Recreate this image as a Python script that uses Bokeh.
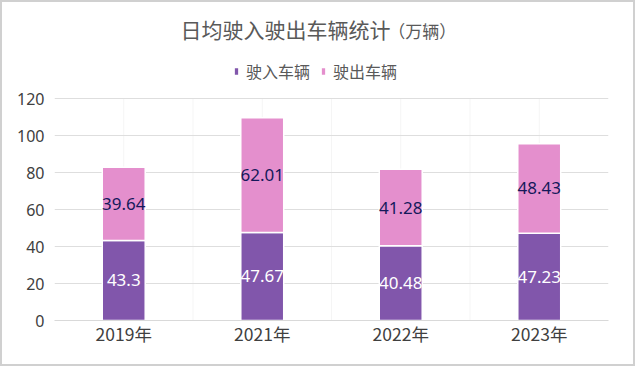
from bokeh.plotting import figure
from bokeh.models import (ColumnDataSource, FixedTicker, Label, LabelSet, Legend,
                          LegendItem, FactorRange, Range1d)
from bokeh.core.properties import value
from bokeh.embed import file_html
from bokeh.resources import INLINE

# ---- data ----
years = ["2019年", "2021年", "2022年", "2023年"]
inbound = [43.3, 47.67, 40.48, 47.23]
outbound = [39.64, 62.01, 41.28, 48.43]
series_names = ["驶入车辆", "驶出车辆"]
y_ticks = [0, 20, 40, 60, 80, 100, 120]
title_main = "日均驶入驶出车辆统计"
title_unit = "（万辆）"

PURPLE = "#8156ab"
PINK = "#e48fcd"
CJK = "Noto Sans CJK SC"

src = ColumnDataSource(dict(
    x=years,
    inb=inbound,
    outb=outbound,
    inb_mid=[v / 2 for v in inbound],
    out_mid=[a + b / 2 for a, b in zip(inbound, outbound)],
    inb_txt=[str(v) for v in inbound],
    out_txt=[str(v) for v in outbound],
))

Y_TOP = max(y_ticks)
PX_PER_UNIT = 219 / Y_TOP
FRAME_TOP_EXTRA = 90 / PX_PER_UNIT  # room above 120 for title + legend

p = figure(x_range=FactorRange(*years, range_padding=0, factor_padding=0),
           y_range=Range1d(0, Y_TOP + FRAME_TOP_EXTRA),
           width=635, height=366, output_backend="svg", toolbar_location=None,
           min_border_left=52, min_border_right=29, min_border_top=5, min_border_bottom=48,
           styles={"border": "2px solid #d0d0d0"})
p.outline_line_color = None
p.background_fill_color = "white"
p.border_fill_color = "white"

# faint vertical grid (only within the value area)
n = len(years)
vx = [i * 0.5 for i in range(1, 2 * n)]
p.segment(x0=vx, x1=vx, y0=[0] * len(vx), y1=[Y_TOP] * len(vx),
          line_color="#f5f5f5", line_width=1, level="underlay")

r = p.vbar_stack(["inb", "outb"], x="x", width=0.31, source=src,
                 color=[PURPLE, PINK], line_color="white", line_width=1.5)

p.xgrid.grid_line_color = None
p.ygrid.ticker = FixedTicker(ticks=y_ticks)
p.ygrid.grid_line_color = "#dedede"
p.yaxis.ticker = FixedTicker(ticks=y_ticks)
p.yaxis.axis_line_color = None
p.yaxis.major_tick_line_color = None
p.yaxis.minor_tick_line_color = None
p.yaxis.major_tick_out = 0
p.yaxis.major_tick_in = 0
p.yaxis.major_label_text_font = "Noto Sans"
p.yaxis.major_label_text_font_size = "16px"
p.yaxis.major_label_text_color = "#404040"
p.yaxis.major_label_standoff = 10

p.xaxis.axis_line_color = "#d9d9d9"
p.xaxis.major_tick_line_color = None
p.xaxis.minor_tick_line_color = None
p.xaxis.major_tick_out = 0
p.xaxis.major_tick_in = 0
p.xaxis.major_label_text_font = CJK
p.xaxis.major_label_text_font_size = "17.5px"
p.xaxis.major_label_text_color = "#404040"
p.xaxis.major_label_standoff = 0

# value labels
p.add_layout(LabelSet(x="x", y="inb_mid", text="inb_txt", source=src,
                      text_align="center", text_baseline="middle",
                      text_color="white", text_font=value("Noto Sans"),
                      text_font_size="17px"))
p.add_layout(LabelSet(x="x", y="out_mid", text="out_txt", source=src,
                      text_align="center", text_baseline="middle",
                      text_color="#14195a", text_font=value("Noto Sans"),
                      text_font_size="17px"))

# title
p.add_layout(Label(x=0.909, y=157.8, text=title_main, text_font=CJK,
                   text_font_size="21px", text_color="#595959",
                   text_align="left", text_baseline="middle"))
p.add_layout(Label(x=2.41, y=156.8, text=title_unit, text_font=CJK,
                   text_font_size="17px", text_color="#595959",
                   text_align="left", text_baseline="middle"))

legend = Legend(items=[LegendItem(label=series_names[0], renderers=[r[0]]),
                       LegendItem(label=series_names[1], renderers=[r[1]])],
                location=(179, 237), orientation="horizontal",
                glyph_width=6, glyph_height=10, label_standoff=7, spacing=10,
                padding=0, margin=0, label_height=18,
                label_text_font=CJK, label_text_font_size="16px",
                label_text_color="#595959", border_line_color=None,
                background_fill_alpha=0)
p.add_layout(legend, "center")

open("out.html", "w").write(file_html(p, INLINE))
